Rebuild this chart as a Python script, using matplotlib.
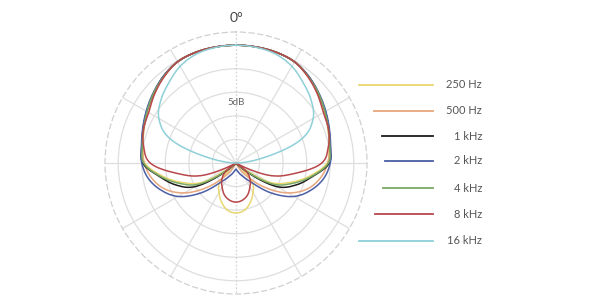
import numpy as np
import matplotlib
matplotlib.use("Agg")
import matplotlib.pyplot as plt
from matplotlib.lines import Line2D

plt.rcParams['font.family'] = ['Lato', 'DejaVu Sans']

# polar response in dB, read at 0..180 deg (pattern is symmetric)
angles = [0, 10, 20, 30, 40, 50, 60, 70, 80, 90,
          100, 110, 120, 130, 140, 150, 160, 170, 180]

labels = ['250 Hz', '500 Hz', '1 kHz', '2 kHz', '4 kHz', '8 kHz', '16 kHz']
colors = ['#e9d870', '#e8a67c', '#1c1c1c', '#4b5ea6', '#7aa865', '#b8474b', '#8ecfd8']

db_250 = [0, 0, 0, -0.2, -1.1, -2.2, -3.3, -4.2, -5.0, -5.7,
          -9.1, -12.9, -16.9, -25, -19.7, -17.8, -16.1, -14.8, -14.4]
db_500 = [0, 0, 0, -0.2, -1.1, -2.2, -3.3, -4.2, -4.9, -5.5,
          -6.8, -8.9, -12.3, -16.9, -21.2, -23.9, -25, -25, -25]
db_1k = [0, 0, 0, -0.2, -1.0, -2.1, -3.1, -4.0, -4.7, -5.2,
         -8.5, -11.4, -15.0, -22.5, -25, -25, -25, -25, -25]
db_2k = [0, 0, 0, -0.2, -1.0, -2.0, -3.0, -3.9, -4.6, -5.0,
         -6.1, -8.1, -10.8, -15.0, -19.3, -21.4, -22.5, -23.3, -23.7]
db_4k = [0, 0, 0, -0.2, -1.1, -2.1, -3.2, -4.1, -4.8, -5.4,
         -8.7, -12.3, -16.1, -23.3, -25, -25, -25, -25, -25]
db_8k = [0, 0, 0, -0.2, -1.2, -2.4, -3.6, -4.1, -5.1, -6.8,
         -12.3, -17.2, -25, -22.0, -20.3, -19.1, -17.8, -17.0, -16.7]
db_16k = [0, -0.1, -0.4, -1.3, -2.8, -4.2, -6.1, -10.2, -19.7, -25,
          -25, -25, -25, -25, -25, -25, -25, -25, -25]

series = [db_250, db_500, db_1k, db_2k, db_4k, db_8k, db_16k]

rmin, rmax = -25, 2.8


def smooth_closed(th, r, n=12):
    # periodic Catmull-Rom through the read points, only for a smooth line
    m = len(th)
    out_t, out_r = [], []
    for i in range(m):
        p0, p1, p2, p3 = [(i + k) % m for k in (-1, 0, 1, 2)]
        t1 = th[p1]
        t2 = th[p2] if p2 > p1 else th[p2] + 2 * np.pi
        s = np.linspace(0, 1, n, endpoint=False)
        a, b, c, d = r[p0], r[p1], r[p2], r[p3]
        rr = 0.5 * ((2 * b) + (-a + c) * s + (2 * a - 5 * b + 4 * c - d) * s ** 2
                    + (-a + 3 * b - 3 * c + d) * s ** 3)
        out_t.append(t1 + (t2 - t1) * s)
        out_r.append(rr)
    out_t.append([th[0] + 2 * np.pi])
    out_r.append([r[0]])
    return np.concatenate(out_t), np.clip(np.concatenate(out_r), rmin, None)


fig = plt.figure(figsize=(6, 3), dpi=100)
cx, cy, rad = 236, 163, 131  # pixel centre / radius of the plot
ax = fig.add_axes([(cx - rad) / 600, (300 - cy - rad) / 300, 2 * rad / 600, 2 * rad / 300],
                  projection='polar')
ax.set_theta_zero_location('N')
ax.set_theta_direction(-1)
ax.set_rlim(rmin, rmax)

ax.set_rticks([-20, -15, -10, -5, 0])
ax.set_yticklabels([])
spokes = [t for t in range(0, 360, 30) if t not in (0, 180)]
ax.set_thetagrids(spokes, labels=[''] * len(spokes))
ax.grid(color='#dedede', lw=0.9)
ax.spines['polar'].set_linestyle((0, (4, 3)))
ax.spines['polar'].set_color('#d0d0d0')
ax.spines['polar'].set_linewidth(0.9)
for t in (0, np.pi):
    ax.plot([t, t], [rmin, rmax], color='#d6d6d6', lw=0.9, ls=(0, (1.5, 1.5)))

# mirror the half pattern to a full circle
a = np.array(angles, dtype=float)
full_a = np.deg2rad(np.concatenate([a, 360 - a[::-1][1:-1]]))
for vals, col in zip(series, colors):
    v = np.array(vals, dtype=float)
    full_v = np.concatenate([v, v[::-1][1:-1]])
    st, sr = smooth_closed(full_a, full_v)
    ax.plot(st, sr, color=col, lw=1.1, solid_joinstyle='round')

fig.text(cx / 600, 1 - 18 / 300, '0°', ha='center', va='center', fontsize=10, color='#444444')
fig.text(cx / 600, 1 - 103 / 300, '5dB', ha='center', va='center', fontsize=7, color='#666666')

# legend drawn next to the circle
leg_y = [85, 111, 136, 161, 188, 214, 241]
for lab, col, y in zip(labels, colors, leg_y):
    dy = y - cy
    x0 = cx + np.sqrt(rad ** 2 - dy ** 2) + 18
    fig.add_artist(Line2D([x0 / 600, 433 / 600], [1 - y / 300, 1 - y / 300],
                          transform=fig.transFigure, color=col, lw=1.3))
    fig.text(482 / 600, 1 - y / 300, lab, ha='right', va='center', fontsize=8, color='#555555')

fig.savefig('out.png', dpi=100, facecolor='white')
